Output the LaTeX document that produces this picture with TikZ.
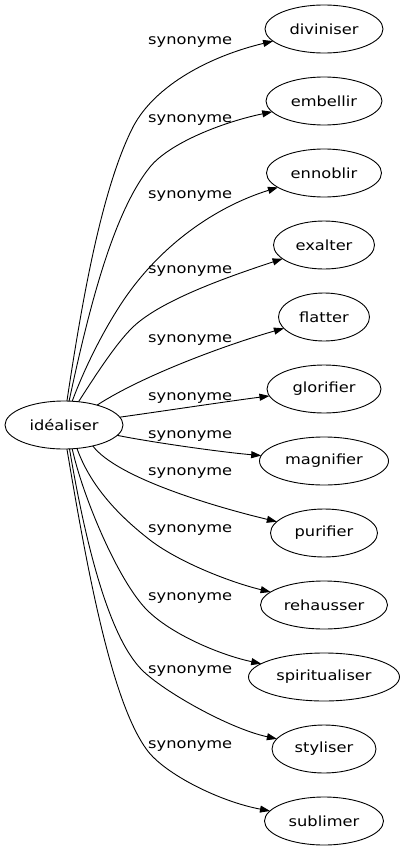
\documentclass[tikz,border=0pt]{standalone}
\usepackage{fontspec}
\setmainfont{DejaVu Sans}[FakeStretch=1.16]
\usetikzlibrary{shapes.geometric,arrows.meta}
\newcommand\wfont{\fontsize{14pt}{16pt}\selectfont}
\tikzset{
  word/.style={draw, ellipse, minimum height=48pt, inner sep=0pt, outer sep=0pt, line width=0.9pt, font=\wfont},
  rel/.style={anchor=base west, inner sep=0pt, font=\wfont},
  syn/.style={line width=0.9pt, -{Triangle[length=10pt,width=7pt]}},
}
\begin{document}
\begin{tikzpicture}[x=1pt,y=-1pt]
\useasboundingbox (0,0) rectangle (405,851);
\node[word, minimum width=118pt] (ideal) at (64,425) {idéaliser};
\node[word, minimum width=118pt] (div) at (324,29) {diviniser};
\node[word, minimum width=116pt] (emb) at (324,101) {embellir};
\node[word, minimum width=115pt] (enn) at (324,173) {ennoblir};
\node[word, minimum width=101pt] (exa) at (324,245) {exalter};
\node[word, minimum width=91pt] (fla) at (324,317) {flatter};
\node[word, minimum width=114pt] (glo) at (324,389) {glorifier};
\node[word, minimum width=129pt] (mag) at (324,461) {magnifier};
\node[word, minimum width=107pt] (pur) at (324,533) {purifier};
\node[word, minimum width=127pt] (reh) at (324,605) {rehausser};
\node[word, minimum width=151pt] (spi) at (324,677) {spiritualiser};
\node[word, minimum width=104pt] (sty) at (324,749) {styliser};
\node[word, minimum width=119pt] (sub) at (324,821) {sublimer};

\node[rel] (l1) at (148,45) {synonyme};
\node[rel] (l2) at (148,122) {synonyme};
\node[rel] (l3) at (148,198) {synonyme};
\node[rel] (l4) at (148,273) {synonyme};
\node[rel] (l5) at (148,342) {synonyme};
\node[rel] (l6) at (148,400) {synonyme};
\node[rel] (l7) at (148,438) {synonyme};
\node[rel] (l8) at (148,475) {synonyme};
\node[rel] (l9) at (148,532) {synonyme};
\node[rel] (l10) at (148,600) {synonyme};
\node[rel] (l11) at (148,673) {synonyme};
\node[rel] (l12) at (148,748) {synonyme};

\draw[syn] (ideal.83) .. controls (82,301) and (101.5,189) .. (133,127) .. controls (155,85) and (210.5,56) .. (div);
\draw[syn] (ideal.78) .. controls (87.8,313.7) and (112.2,213.8) .. (150,167) .. controls (169,143.6) and (221,122.5) .. (emb);
\draw[syn] (ideal.71) .. controls (84.3,368.8) and (101.8,333.4) .. (121,304) .. controls (159.5,245.2) and (215.6,206.8) .. (enn);
\draw[syn] (ideal.58) .. controls (92.3,380.5) and (115,344.3) .. (133,327) .. controls (161.8,299.4) and (232,275.5) .. (exa);
\draw[syn] (ideal.31) .. controls (145,374) and (232,343) .. (fla);
\draw[syn] (ideal.8) .. controls (150,413) and (230,401) .. (glo);
\draw[syn] (ideal.-11) .. controls (150,442) and (220,452) .. (mag);
\draw[syn] (ideal.-36) .. controls (117,478) and (215,506.8) .. (pur);
\draw[syn] (ideal.-61) .. controls (89.3,482.9) and (114.5,512.5) .. (150,540) .. controls (177.7,561.4) and (228.4,581.75) .. (reh);
\draw[syn] (ideal.-71) .. controls (83,497.5) and (118.6,581.6) .. (147,610) .. controls (171.9,634.9) and (221.2,655.2) .. (spi);
\draw[syn] (ideal.-77) .. controls (83.4,531.4) and (106.5,634.5) .. (142,670) .. controls (163.3,691.3) and (229,728.5) .. (sty);
\draw[syn] (ideal.-83) .. controls (87.4,571.2) and (111.6,702) .. (147,750) .. controls (164.7,774) and (219.5,801.5) .. (sub);
\end{tikzpicture}
\end{document}
